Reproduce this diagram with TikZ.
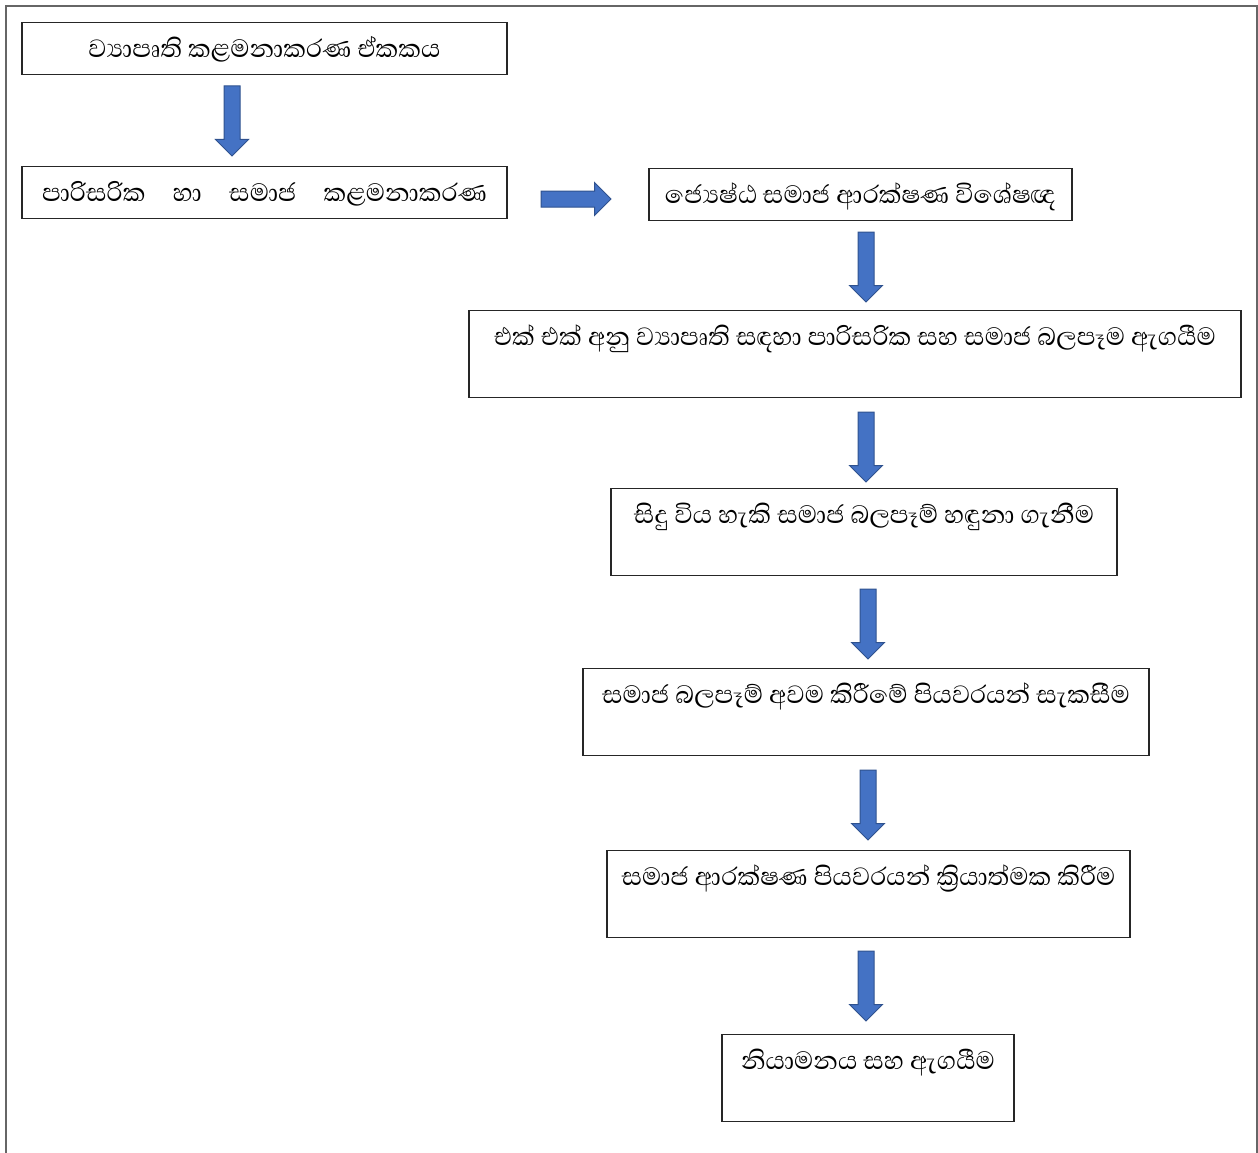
\documentclass[tikz,border=0pt]{standalone}
\usepackage{fontspec}
\newfontfamily\sinhalafont[Script=Sinhala]{Abhaya Libre}
\usetikzlibrary{shapes.arrows}

\definecolor{arrowfill}{HTML}{4472C4}
\definecolor{arrowedge}{HTML}{2F528F}

\tikzset{
    stepbox/.style={draw=black!85, line width=1.1pt, inner sep=0pt, anchor=north,
        text height=35pt, font=\sinhalafont\fontsize{32}{36}\selectfont},
    shortbox/.style={stepbox, text depth=17pt},
    tallbox/.style={stepbox, text depth=52pt},
    blkarrow/.style={single arrow, draw=arrowedge, fill=arrowfill, line width=1pt,
        inner sep=7.5pt, single arrow head extend=8.5pt, minimum height=70pt},
    frameline/.style={draw=black!60, line width=1.2pt}
}

\begin{document}
\begin{tikzpicture}[x=1pt, y=1pt]
    \useasboundingbox (0,0) rectangle (1258,-1153);

    % Outer frame
    \draw[frameline] (6,-1153) -- (6,-6) -- (1257,-6) -- (1257,-1153);

    % Left column
    \node[shortbox, minimum width=485pt] (unit) at (264.5,-22) {ව්‍යාපෘති කළමනාකරණ ඒකකය};
    \node[shortbox, minimum width=485pt] (envsoc) at (264.5,-166)
        {\makebox[445pt][s]{පාරිසරික හා සමාජ කළමනාකරණ}};

    % Right column
    \node[shortbox, minimum width=423pt] (expert) at (860.5,-168) {ජ්‍යෙෂ්ඨ සමාජ ආරක්ෂණ විශේෂඥ};
    \node[tallbox, minimum width=772pt] (assess) at (855,-310)
        {එක් එක් අනු ව්‍යාපෘති සඳහා පාරිසරික සහ සමාජ බලපෑම ඇගයීම};
    \node[tallbox, minimum width=506pt] (identify) at (864,-488) {සිදු විය හැකි සමාජ බලපෑම් හඳුනා ගැනීම};
    \node[tallbox, minimum width=566pt] (mitigate) at (866,-668) {සමාජ බලපෑම් අවම කිරීමේ පියවරයන් සැකසීම};
    \node[tallbox, minimum width=523pt] (implement) at (868.5,-850) {සමාජ ආරක්ෂණ පියවරයන් ක්‍රියාත්මක කිරීම};
    \node[tallbox, minimum width=292pt] (monitor) at (868,-1034) {නියාමනය සහ ඇගයීම};

    % Block arrows
    \node[blkarrow, rotate=-90] (arr1) at (232,-117) {};
    \node[blkarrow] (arr2) at (572,-199) {};
    \node[blkarrow, rotate=-90] (arr3) at (866,-263) {};
    \node[blkarrow, rotate=-90] (arr4) at (866,-443) {};
    \node[blkarrow, rotate=-90] (arr5) at (868,-620) {};
    \node[blkarrow, rotate=-90] (arr6) at (868,-801) {};
    \node[blkarrow, rotate=-90] (arr7) at (866,-982) {};
\end{tikzpicture}
\end{document}
